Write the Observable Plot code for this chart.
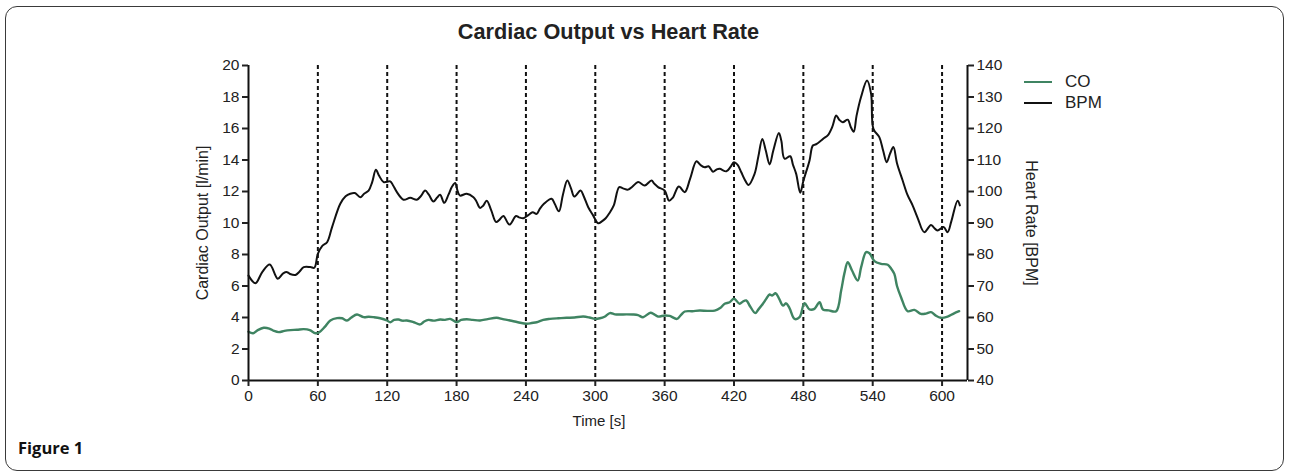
<!DOCTYPE html>
<html>
<head>
<meta charset="utf-8">
<script src="https://cdn.jsdelivr.net/npm/d3@7"></script>
<script src="https://cdn.jsdelivr.net/npm/@observablehq/plot@0.6"></script>
<style>
  html, body { margin: 0; padding: 0; background: #fff; }
  #wrap { position: relative; width: 1290px; height: 473px; overflow: hidden; font-family: "Liberation Sans", Arial, sans-serif; }
  #border { position: absolute; left: 5px; top: 6px; width: 1279px; height: 465px; border: 1.5px solid #3a3a3a; border-radius: 12px; box-sizing: border-box; }
  #title { position: absolute; left: 0; width: 1217px; top: 19px; text-align: center; font-weight: bold; font-size: 21.7px; color: #222; }
  #fig { position: absolute; left: 18px; top: 436px; font-family: "Open Sans", "Noto Sans", sans-serif; font-weight: bold; font-size: 16.5px; color: #111; }
  .ylab { position: absolute; font-size: 16px; color: #222; white-space: nowrap; }
  #ylabL { left: 203px; top: 223px; transform: translate(-50%, -50%) rotate(-90deg); }
  #ylabR { left: 1031px; top: 223px; transform: translate(-50%, -50%) rotate(90deg); }
  #xlab { position: absolute; left: 599px; top: 412px; transform: translateX(-50%); font-size: 15px; color: #222; }
  #legend { position: absolute; left: 1024px; top: 71px; font-size: 17px; color: #222; }
  .lg { display: flex; align-items: center; height: 21px; }
  .lg span.sw { display: inline-block; width: 28px; height: 2px; margin-right: 13px; }
  svg { position: absolute; left: 0; top: 0; }
</style>
</head>
<body>
<div id="wrap">
  <div id="border"></div>
  <div id="title">Cardiac Output vs Heart Rate</div>
  <div id="chart"></div>
  <div class="ylab" id="ylabL">Cardiac Output [l/min]</div>
  <div class="ylab" id="ylabR">Heart Rate [BPM]</div>
  <div id="xlab">Time [s]</div>
  <div id="legend"></div>
  <div id="fig">Figure 1</div>
</div>
<script>
// ---- data ----
const xTicks = [0, 60, 120, 180, 240, 300, 360, 420, 480, 540, 600];
const coTicks = [0, 2, 4, 6, 8, 10, 12, 14, 16, 18, 20];
const hrTicks = [40, 50, 60, 70, 80, 90, 100, 110, 120, 130, 140];
const seriesNames = ["CO", "BPM"];
const seriesColors = ["#3f8462", "#111111"];

const bpmTime = [0,6,12,18.4,25.3,30,33.4,36,40.6,44,47.8,53.5,57,60,64,68,72.3,79.4,84,88,92,96.7,100,103.9,107,110.2,113,116.9,122.6,125,128.4,134.1,139.9,145.6,149,152.8,156,160,163,165.8,169.3,173,176,178.8,181,183,188.8,194.6,197,200.3,203,206.1,210,214.2,217,220.5,225.7,231.4,234,237.8,242,245.8,249.3,252,255.6,262.2,265,268.6,272,275.8,279,281.8,287.3,290,293.9,298,302.5,306,309,312,316,320.7,324,328.4,332,337,342.8,348.6,351,354.3,360.1,363.8,367,372.2,377.4,382,387.5,391,394.7,398,401.8,405,407.6,413.4,417,420,423,426.3,429,432.6,437.8,441,444.5,447.5,450.8,454,458.8,461,463.7,468.6,471,473.8,477.3,480.1,485.3,488.2,491,495.4,498,501.1,505,508.4,511,514.1,518.4,521,523.6,526,529.9,535.1,538.6,540.6,545.8,549,552.1,555,557.9,561,565.9,570,574.5,579,584.6,590.4,593,596.1,601.3,604.8,608,613.4,615.4];
const bpmValue = [73.3,70.9,74.5,76.8,72.3,74,74.4,73.8,73.5,74.5,76,76,75.8,80.2,82.8,83.9,88.7,96.1,98.5,99.3,99.5,98.2,99.3,100.3,103,106.9,105,103,103.2,102,99.8,97.4,98,97.4,98.5,100.3,99,96.8,98,99,96.4,99,101.5,102.7,100,98.7,99.3,98.2,97,94.8,95.5,97.1,94,90.3,91,92.2,89.5,92.2,91.8,91.5,92.5,93.4,92.9,94.5,96.1,97.7,96,93.7,99,103.5,101,98.4,100.3,98.5,95,92.5,89.9,90.6,91.5,93,95.6,101.4,101,100.6,101.5,103,101.9,103.5,102.5,101.4,100.3,97.1,98,101.6,99.8,104,109.6,108.4,107.7,108,106.3,107,107.2,106.4,107.8,109.3,108.5,106.1,104,102.1,105.6,111,116.7,113,108.6,113,118.6,116,110.4,111.2,108.5,105.6,99.6,103.5,109.8,114.6,115,116.2,117,117.8,120.5,124.1,122.8,122,122.8,120.5,119,124,130,135.2,131,119.9,117.2,113,109.3,112,114.1,109,103.5,99,95.6,91.5,87.1,89.4,88.5,87.6,88.7,87.1,90.5,97.1,95.6];

const coTime = [0,4,8,13.2,18,22,26.2,31,36.3,42,47.8,53,57.9,61,66,70.8,76.6,81,85.2,89,93.8,99.6,104,108.3,114,119.8,122.6,126,129.9,133,137,143,148.5,152,155.7,160,165.8,170,174.4,180.2,184,188.8,194,200.3,207,214.7,220,226.2,233,240.6,245,249.3,255,260.8,268,275.2,282,289.6,295,299.7,304,308,312.6,317,321.2,327,332.7,337,341.3,347.7,351,354.3,360.1,364.4,370.7,374,377.4,384,390.4,397,403.3,408,411.9,416.2,420,424.9,427.5,430.6,434,438.4,441,445,448,450.8,453,456,459,462.4,465,468,472.4,476.7,481,485.3,489.6,494,496.9,502,508.4,512.7,515.5,518.4,522,527.1,530,534.3,537.2,541.5,547.2,553,556,558.7,561,564.5,570.2,576,581.7,586,590.4,594,599,604.8,610,614.8];
const coValue = [3.1,3.0,3.2,3.35,3.3,3.15,3.07,3.15,3.2,3.22,3.26,3.2,3.0,3.05,3.4,3.81,3.96,3.95,3.81,4.0,4.19,4.02,4.05,4.02,3.95,3.81,3.7,3.85,3.87,3.8,3.81,3.7,3.56,3.75,3.85,3.8,3.87,3.85,3.91,3.7,3.85,3.89,3.85,3.81,3.9,3.98,3.9,3.81,3.7,3.6,3.65,3.7,3.85,3.91,3.95,3.98,4.0,4.06,4.0,3.91,3.95,4.05,4.28,4.2,4.19,4.2,4.19,4.15,4.02,4.3,4.2,4.06,4.13,4.1,3.91,4.15,4.38,4.4,4.44,4.42,4.44,4.6,4.87,4.97,5.19,4.87,5.0,5.08,4.7,4.28,4.5,4.87,5.2,5.46,5.4,5.54,5.2,4.76,4.9,4.6,3.91,4.02,4.91,4.51,4.55,4.97,4.51,4.45,4.4,5.71,6.8,7.51,7.0,6.35,7.2,8.15,8.08,7.58,7.41,7.35,7.1,6.77,6.0,5.29,4.4,4.48,4.23,4.25,4.34,4.15,3.98,4.06,4.25,4.4];

// ---- build ----
const bpm = bpmTime.map((t, i) => ({t, v: bpmValue[i]}));
const co = coTime.map((t, i) => ({t, v: coValue[i]}));
const hrToCo = h => (h - 40) / 5;
const xMax = 622;

const chart = Plot.plot({
  width: 1290,
  height: 473,
  marginLeft: 248,
  marginRight: 323,
  marginTop: 65,
  marginBottom: 93,
  style: {fontFamily: "'Liberation Sans', Arial, sans-serif", fontSize: "15.5px", background: "transparent", color: "#222"},
  x: {domain: [0, xMax]},
  y: {domain: [0, 20]},
  marks: [
    Plot.ruleX(xTicks.filter(d => d > 0), {stroke: "#111", strokeWidth: 2, strokeDasharray: "4,3"}),
    Plot.line(co, {x: "t", y: "v", stroke: seriesColors[0], strokeWidth: 2.4, curve: "catmull-rom"}),
    Plot.line(bpm, {x: "t", y: d => hrToCo(d.v), stroke: seriesColors[1], strokeWidth: 2, curve: "catmull-rom"}),
    Plot.ruleY([0], {stroke: "#111", strokeWidth: 2}),
    Plot.ruleX([0, xMax], {stroke: "#111", strokeWidth: 2}),
    Plot.axisX({ticks: xTicks, tickSize: 6, tickPadding: 3, strokeWidth: 2, fontSize: 15.5, label: null}),
    Plot.axisY({ticks: coTicks, anchor: "left", tickSize: 6, tickPadding: 3, strokeWidth: 2, fontSize: 15.5, label: null}),
    Plot.axisY({ticks: hrTicks.map(hrToCo), anchor: "right", tickSize: 6, tickPadding: 3, strokeWidth: 2, fontSize: 15.5, tickFormat: d => d * 5 + 40, label: null})
  ]
});
document.getElementById("chart").appendChild(chart);

// legend
const lg = document.getElementById("legend");
seriesNames.forEach((n, i) => {
  const row = document.createElement("div");
  row.className = "lg";
  row.innerHTML = `<span class="sw" style="background:${seriesColors[i]}"></span><span>${n}</span>`;
  lg.appendChild(row);
});
</script>
</body>
</html>
